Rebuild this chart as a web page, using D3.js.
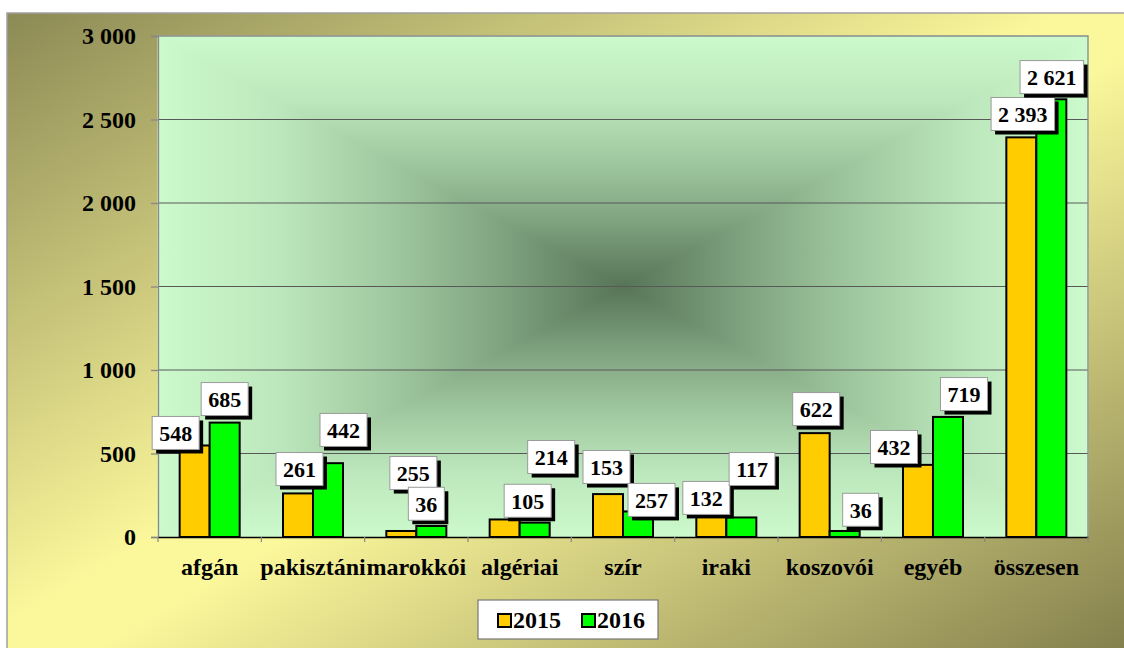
<!DOCTYPE html>
<html><head><meta charset="utf-8">
<script src="https://cdn.jsdelivr.net/npm/d3@7"></script>
<style>body{margin:0;background:#fff}svg{display:block}</style>
</head><body>
<script>
// ---- data ----
const categories = ["afgán","pakisztáni","marokkói","algériai","szír","iraki","koszovói","egyéb","összesen"];
const seriesNames = ["2015","2016"];
const values2015 = [548, 261, 36, 105, 257, 132, 622, 432, 2393];
const values2016 = [685, 442, 66, 86, 153, 117, 36, 719, 2621];
const labels2015 = ["548","261","255","105","153","132","622","432","2 393"];
const labels2016 = ["685","442","36","214","257","117","36","719","2 621"];
const yTicks = [0, 500, 1000, 1500, 2000, 2500, 3000];

// ---- label placement (layout, value units / px shift) ----
const labelAt2015 = [623, 407, 383, 217, 419, 234, 766, 539, 2533];
const labelShift2015 = [-19, 1.5, 12, 23, -1.5, -5, 1.5, -24, 1.5];
const labelAt2016 = [826, 641, 199, 479, 222, 407, 163, 856, 2754];
const labelShift2016 = [0, 15.5, -5, 16.5, 13.5, 10.7, 16, 16, 0.5];

const W = 1124, H = 648;
const L = 158, R = 1088, T = 36, B = 537;
const FONT = "'Liberation Serif','Times New Roman',serif";
const colors = {"2015": "#ffcc00", "2016": "#00ff00"};

const svg = d3.select("body").append("svg").attr("width", W).attr("height", H);
const defs = svg.append("defs");

// outer background gradient
const bg = defs.append("linearGradient").attr("id", "bg")
  .attr("x1", 0).attr("y1", 0).attr("x2", 1).attr("y2", 1);
[[0, "#8c8a55"], [0.47, "#fbf79b"], [0.53, "#fbf79b"], [1, "#817d4b"]]
  .forEach(([o, c]) => bg.append("stop").attr("offset", o).attr("stop-color", c));
svg.append("rect").attr("x", 7).attr("y", 13).attr("width", W).attr("height", H)
  .attr("fill", "url(#bg)").attr("stroke", "#a0a0a0").attr("stroke-width", 1.5);

// plot area "rectangular path" gradient via four triangles
const cx = (L + R) / 2, cy = (T + B) / 2;
const pStops = [[0, "#ccfacc"], [0.25, "#bde8bd"], [0.5, "#a0c8a0"], [0.72, "#82a682"], [1, "#577457"]];
function grad(id, x1, y1, x2, y2) {
  const g = defs.append("linearGradient").attr("id", id).attr("gradientUnits", "userSpaceOnUse")
    .attr("x1", x1).attr("y1", y1).attr("x2", x2).attr("y2", y2);
  pStops.forEach(([o, c]) => g.append("stop").attr("offset", o).attr("stop-color", c));
}
grad("gT", 0, T, 0, cy); grad("gB", 0, B, 0, cy); grad("gL", L, 0, cx, 0); grad("gR", R, 0, cx, 0);
const tris = [
  ["gT", [[L, T], [R, T], [cx, cy]]],
  ["gB", [[L, B], [R, B], [cx, cy]]],
  ["gL", [[L, T], [L, B], [cx, cy]]],
  ["gR", [[R, T], [R, B], [cx, cy]]]
];
const plotG = svg.append("g");
tris.forEach(([id, pts]) => {
  plotG.append("path").attr("d", "M" + pts.map(p => p.join(",")).join("L") + "Z")
    .attr("fill", `url(#${id})`).attr("stroke", `url(#${id})`).attr("stroke-width", 1);
});

// scales
const x0 = d3.scaleBand().domain(categories).range([L, R]).paddingInner(0).paddingOuter(0);
const bw = x0.bandwidth();
const x1 = d3.scaleBand().domain(seriesNames).range([bw / 2 - 30, bw / 2 + 30]);
const y = d3.scaleLinear().domain([0, 3000]).range([B, T]);
const fmt = d3.formatLocale({decimal: ",", thousands: " ", grouping: [3], currency: ["", ""]}).format(",d");

// gridlines
svg.append("g").selectAll("line").data(yTicks.filter(v => v > 0 && v < 3000)).join("line")
  .attr("x1", L).attr("x2", R).attr("y1", d => y(d)).attr("y2", d => y(d))
  .attr("stroke", "#585858").attr("stroke-width", 1);
// plot border top & right
svg.append("path").attr("d", `M${L},${y(3000)}H${R}V${B}`).attr("fill", "none")
  .attr("stroke", "#8a8a8a").attr("stroke-width", 1.3);

// y axis
const yAx = svg.append("g").attr("transform", `translate(${L},0)`)
  .call(d3.axisLeft(y).tickValues(yTicks).tickSize(7).tickPadding(15).tickFormat(fmt));
yAx.select(".domain").attr("stroke", "#888").attr("stroke-width", 1.3);
yAx.selectAll(".tick line").attr("stroke", "#888").attr("stroke-width", 1.3);
yAx.selectAll("text").attr("font-family", FONT).attr("font-weight", "bold")
  .attr("font-size", 24).attr("fill", "#000");

// bars
const rows = categories.map((c, i) => ({c, vals: [
  {s: "2015", v: values2015[i], lab: labels2015[i], at: labelAt2015[i], dx: labelShift2015[i]},
  {s: "2016", v: values2016[i], lab: labels2016[i], at: labelAt2016[i], dx: labelShift2016[i]}
]}));
const gBars = svg.append("g").selectAll("g").data(rows).join("g")
  .attr("transform", d => `translate(${x0(d.c)},0)`);
gBars.selectAll("rect").data(d => d.vals).join("rect")
  .attr("x", d => x1(d.s)).attr("width", x1.bandwidth())
  .attr("y", d => y(d.v)).attr("height", d => y(0) - y(d.v))
  .attr("fill", d => colors[d.s]).attr("stroke", "#000").attr("stroke-width", 2);

// x axis
const xAx = svg.append("g").attr("transform", `translate(0,${B})`)
  .call(d3.axisBottom(x0).tickSize(0).tickPadding(21));
xAx.select(".domain").attr("stroke", "#000").attr("stroke-width", 1.5);
xAx.selectAll("text").attr("font-family", FONT).attr("font-weight", "bold")
  .attr("font-size", 24).attr("fill", "#000");
svg.append("g").selectAll("line").data(d3.range(categories.length + 1)).join("line")
  .attr("x1", i => L + i * bw).attr("x2", i => L + i * bw)
  .attr("y1", B).attr("y2", B + 5).attr("stroke", "#888").attr("stroke-width", 1.2);

// data labels
const labG = svg.append("g");
rows.forEach(r => r.vals.forEach(d => {
  const bx = x0(r.c) + x1(d.s) + x1.bandwidth() / 2 + d.dx;
  const by = y(d.at);
  const g = labG.append("g");
  const shadow = g.append("rect"), box = g.append("rect");
  const t = g.append("text").text(d.lab).attr("x", bx).attr("y", by + 8)
    .attr("text-anchor", "middle").attr("font-family", FONT).attr("font-weight", "bold")
    .attr("font-size", 22).attr("fill", "#000");
  const tw = t.node().getComputedTextLength();
  const w = tw + 14, h = 33;
  box.attr("x", bx - w / 2).attr("y", by - h / 2).attr("width", w).attr("height", h)
    .attr("fill", "#fff").attr("stroke", "#9a9a9a").attr("stroke-width", 1);
  shadow.attr("x", bx - w / 2 + 4).attr("y", by - h / 2 + 4).attr("width", w).attr("height", h)
    .attr("fill", "#000");
}));

// legend
const lg = svg.append("g");
lg.append("rect").attr("x", 478).attr("y", 600).attr("width", 180).attr("height", 39)
  .attr("fill", "#fff").attr("stroke", "#777").attr("stroke-width", 1.2);
const legX = [498, 582];
seriesNames.forEach((s, i) => {
  lg.append("rect").attr("x", legX[i]).attr("y", 614).attr("width", 13).attr("height", 13)
    .attr("fill", colors[s]).attr("stroke", "#000").attr("stroke-width", 2);
  lg.append("text").text(s).attr("x", legX[i] + 15).attr("y", 628)
    .attr("font-family", FONT).attr("font-weight", "bold").attr("font-size", 24).attr("fill", "#000");
});
</script>
</body></html>
